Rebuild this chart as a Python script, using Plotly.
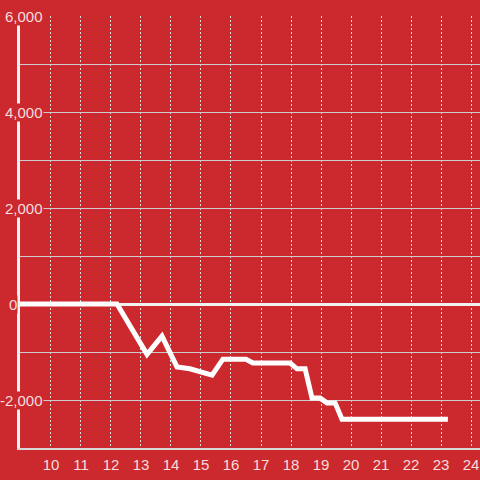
import plotly.graph_objects as go

# line data (hour of day, value)
hours = [8.97, 12.2, 13.2, 13.7, 14.2, 14.63, 15.37, 15.73, 16.5, 16.73, 17.97,
         18.2, 18.47, 18.7, 18.97, 19.2, 19.47, 19.7, 23.23]
values = [0, 0, -1050, -670, -1310, -1350, -1480, -1150, -1150, -1230, -1230,
          -1350, -1350, -1960, -1960, -2060, -2060, -2400, -2400]

x_ticks = list(range(10, 25))
y_grid = list(range(-3000, 6001, 1000))
y_labels = [6000, 4000, 2000, 0, -2000]

BG = "#cc292e"
TXT = "rgba(255,255,255,0.85)"
FONT = "Arial, Liberation Sans, sans-serif"

fig = go.Figure()
fig.add_trace(go.Scatter(
    x=hours, y=values, mode="lines",
    line=dict(color="white", width=5),
    hoverinfo="skip", showlegend=False,
))

# y labels drawn as boxed text so they cut through the axis and grid lines
annotations = []
for v in y_labels:
    if v == 0:
        ax, anchor = -12 / 460, "left"
    else:
        ax, anchor = 24 / 460, "right"
    annotations.append(dict(
        x=ax, xref="paper", y=v, yref="y", text=f"{v:,}", showarrow=False,
        xanchor=anchor, yanchor="middle", bgcolor=BG, borderpad=0,
        font=dict(family=FONT, size=15, color=TXT),
    ))

fig.update_layout(
    width=480, height=480,
    margin=dict(l=20, r=0, t=16, b=32),
    paper_bgcolor=BG, plot_bgcolor=BG,
    font=dict(family=FONT, size=15, color=TXT),
    annotations=annotations,
    xaxis=dict(
        range=[8.967, 24.3], tickvals=x_ticks, ticks="", automargin=False,
        showgrid=True, gridcolor="#dddddd", griddash="2px,2px", gridwidth=1,
        zeroline=False, showline=True, linecolor="#d8d8d8", linewidth=2,
        tickfont=dict(size=15, color=TXT), ticklabelstandoff=2,
    ),
    yaxis=dict(
        range=[-3000, 6000], tickvals=y_grid, showticklabels=False, ticks="",
        automargin=False,
        showgrid=True, gridcolor="#cccccc", gridwidth=1,
        zeroline=True, zerolinecolor="#f2f2f2", zerolinewidth=3,
        showline=True, linecolor="#f2f2f2", linewidth=3,
    ),
)

# drop the default page margin so the figure fills the window
fig.write_html("out.html", config={"displayModeBar": False},
               post_script="document.body.style.margin='0';")
